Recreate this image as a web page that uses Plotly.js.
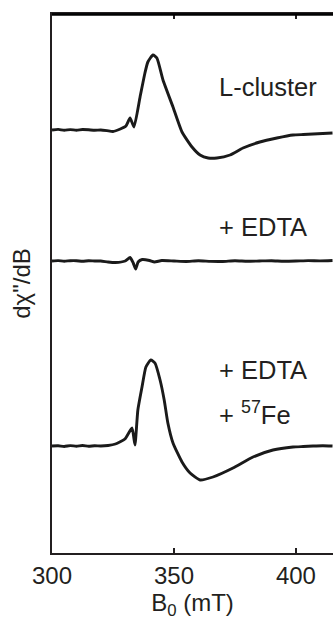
<!DOCTYPE html>
<html>
<head>
<meta charset="utf-8">
<script src="https://cdn.plot.ly/plotly-3.0.1.min.js"></script>
<style>html,body{margin:0;padding:0;background:#fff;}#chart{width:333px;height:627px;}</style>
</head>
<body>
<div id="chart"></div>
<script>
// Spectrum 1: L-cluster
const b1 = [300,302.5,305,307.5,310,312.5,315,317.5,320,322.5,325,328,330.3,332,333.6,336.1,338.1,339.3,341.4,343,345.5,349.6,353.3,357.4,360.7,364,367.6,373,378.3,385.2,392.2,398.8,403,407,411,415];
const s1 = [0,0.6,-0.3,0.4,-0.2,0.5,0.2,-0.3,0,-0.6,-1.5,1,4,12,3,33,57,68,75,72,50,23,-2,-17,-25,-28,-28,-25,-18,-12,-8,-5,-4.5,-4,-3.5,-3];
// Spectrum 2: + EDTA
const b2 = [300,302.5,305,307.5,310,312.5,315,317.5,320,323,326,330,332,333.3,334.3,335.3,337,340,342,345,350,355,360,365,370,375,380,385,390,395,400,405,410,415];
const s2 = [0,0.4,-0.2,0.3,0.3,-0.3,0.2,0,0,-1,-1.5,0,3.5,-2,-8,-1,1.5,0.5,-1,0.5,0,-0.5,0.3,-0.4,-0.5,0.2,-0.3,0,0.3,-0.2,0,0.4,0.1,0.5];
// Spectrum 3: + EDTA + 57Fe
const b3 = [300,302.5,305,307.5,310,312.5,315,317.5,320,323,326,329.9,332.8,334,335.2,336.9,338.5,340.5,342.2,344.3,346,347.5,349.6,353.3,356.6,360.7,366,374.2,382.4,390.6,398.8,403,407,411,415];
const s3 = [0,0.3,-0.5,0.4,-0.2,0.5,-0.3,0.3,0,0.5,2,7,18,1,36,59,79,86,83,66,46,23,3,-16,-27,-34,-31,-22,-11,-4,-1,-0.5,0,0.3,0];
const offsets = [423, 292, 107];
const labels = ["L-cluster", "+ EDTA", "+ EDTA", "+ <sup>57</sup>Fe"];
const labelB = [367.5, 367.5, 367.5, 367.5];
const labelY = [466, 326, 183, 140];
const xTicks = [300, 350, 400];

const spectra = [[b1, s1], [b2, s2], [b3, s3]];
const traces = spectra.map((sp, i) => ({
  x: sp[0],
  y: sp[1].map(v => v + offsets[i]),
  type: 'scatter', mode: 'lines',
  line: {color: '#1a1a1a', width: 2.9, shape: 'spline', smoothing: 0.5},
  hoverinfo: 'none', showlegend: false
}));

const fontFam = 'Liberation Sans, Arial, sans-serif';
const ink = '#231f20';
const layout = {
  width: 333, height: 627,
  margin: {l: 52, r: 0, t: 14, b: 74},
  paper_bgcolor: '#fff', plot_bgcolor: '#fff',
  font: {family: fontFam, color: ink, size: 24},
  xaxis: {
    range: [300, 415.2], tickvals: xTicks, ticktext: xTicks.map(String),
    ticks: 'inside', ticklen: 5, tickwidth: 2, tickcolor: ink,
    showline: true, linewidth: 2, linecolor: ink, mirror: 'allticks',
    showgrid: false, zeroline: false,
    tickfont: {size: 24, family: fontFam, color: ink},
    title: {text: 'B<sub>0</sub> (mT)', font: {size: 24, family: fontFam, color: ink}, standoff: 4}
  },
  yaxis: {
    range: [0, 539], showticklabels: false, ticks: '',
    showline: true, linewidth: 2, linecolor: ink,
    showgrid: false, zeroline: false,
    title: {text: 'dχ"/dB', font: {size: 24, family: fontFam, color: ink}, standoff: 13}
  },
  shapes: [{type: 'line', xref: 'paper', yref: 'paper', x0: 0, x1: 1, y0: 0.999, y1: 0.999,
            line: {color: '#000', width: 2.5}}],
  annotations: labels.map((t, i) => ({
    x: labelB[i], y: labelY[i], xref: 'x', yref: 'y', text: t,
    showarrow: false, xanchor: 'left', yanchor: 'middle',
    font: {size: 25.5, family: fontFam, color: ink}
  }))
};
Plotly.newPlot('chart', traces, layout, {staticPlot: true, displayModeBar: false});
</script>
</body>
</html>
